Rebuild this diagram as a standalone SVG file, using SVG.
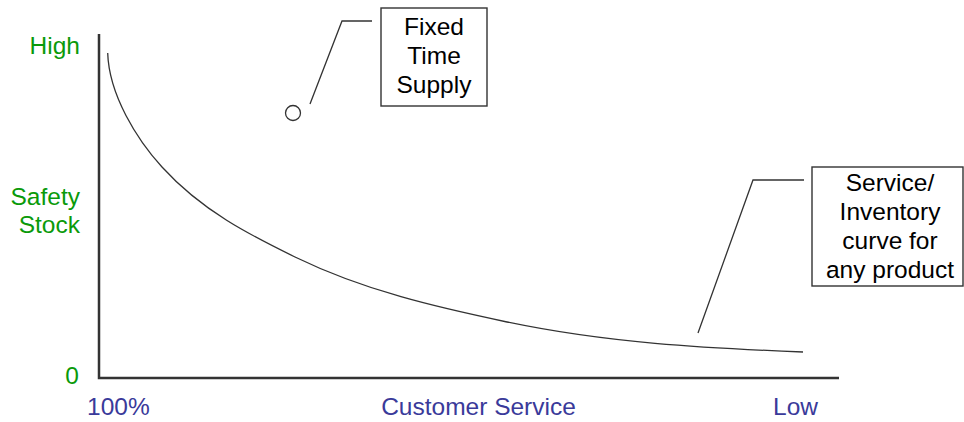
<svg xmlns="http://www.w3.org/2000/svg" width="964" height="422" viewBox="0 0 964 422">
<style>
text{font-family:"Liberation Sans",Arial,sans-serif;font-size:24.5px}
.g{fill:#0a9a0a;text-anchor:end}
.b{fill:#3a3a9a}
.k{fill:#000;text-anchor:middle}
.ax{stroke:#333;stroke-width:2.5;fill:none}
.ln{stroke:#333;stroke-width:1.3;fill:none}
.bx{stroke:#333;stroke-width:1.4;fill:#fff}
</style>
<rect width="964" height="422" fill="#fff"/>
<g id="axes">
<path class="ax" d="M99,34 V378 H839"/>
</g>
<g id="axis-labels">
<text class="g" x="80" y="54">High</text>
<text class="g" x="80" y="205">Safety</text>
<text class="g" x="80" y="233">Stock</text>
<text class="g" x="79" y="384">0</text>
<text class="b" x="87" y="415">100%</text>
<text class="b" x="478.5" y="415" text-anchor="middle">Customer Service</text>
<text class="b" x="795.5" y="415" text-anchor="middle">Low</text>
</g>
<g id="curve">
<path class="ln" d="M107.7,53 C109,95 137,139.5 162,167 C202,211 250,235 295,257 C365,291 437,307.3 507,322 C607,343 703,348 803,352"/>
</g>
<g id="fixed-point">
<circle cx="293" cy="113" r="7.5" fill="none" stroke="#333" stroke-width="1.3"/>
</g>
<g id="connectors">
<path class="ln" d="M310,104 L342,21 H372"/>
<path class="ln" d="M698,333 L753,180 H804"/>
</g>
<g id="fixed-time-supply">
<rect class="bx" x="381" y="8" width="106" height="98"/>
<text class="k" x="434" y="35">Fixed</text>
<text class="k" x="434" y="64">Time</text>
<text class="k" x="434" y="93">Supply</text>
</g>
<g id="service-inventory">
<rect class="bx" x="812" y="167" width="151" height="119"/>
<text class="k" x="890" y="191">Service/</text>
<text class="k" x="890" y="220">Inventory</text>
<text class="k" x="890" y="249">curve for</text>
<text class="k" x="890" y="278">any product</text>
</g>
</svg>
